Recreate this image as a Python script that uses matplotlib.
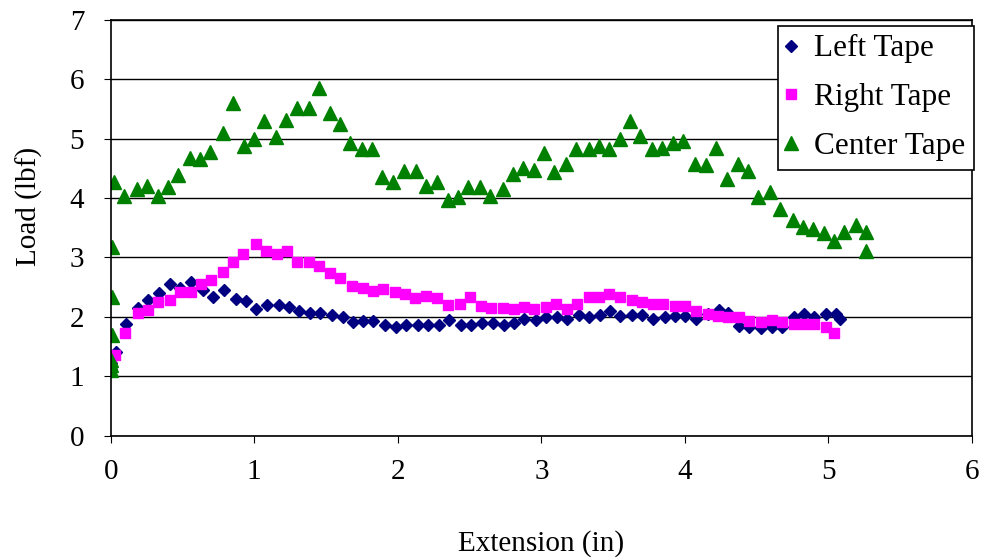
import matplotlib
matplotlib.use("Agg")
import matplotlib.pyplot as plt

plt.rcParams["font.family"] = ["Liberation Serif", "DejaVu Serif"]
plt.rcParams["font.size"] = 21

# extension (in) and load (lbf) for each tape
left_x = [0, 0.005, 0.037, 0.11, 0.19, 0.26, 0.34, 0.41, 0.48, 0.56, 0.64, 0.71,
          0.79, 0.87, 0.94, 1.01, 1.09, 1.17, 1.24, 1.31, 1.39, 1.46, 1.54, 1.62,
          1.69, 1.76, 1.83, 1.91, 1.99, 2.06, 2.14, 2.21, 2.29, 2.36, 2.44, 2.51,
          2.59, 2.66, 2.74, 2.81, 2.88, 2.96, 3.03, 3.11, 3.18, 3.26, 3.33, 3.41,
          3.48, 3.55, 3.63, 3.70, 3.78, 3.86, 3.93, 4.00, 4.08, 4.16, 4.24, 4.30,
          4.38, 4.45, 4.53, 4.61, 4.68, 4.76, 4.83, 4.90, 4.98, 5.05, 5.08]
left_load = [1.12, 1.22, 1.40, 1.88, 2.15, 2.28, 2.40, 2.55, 2.48, 2.59, 2.45, 2.33,
             2.45, 2.30, 2.27, 2.13, 2.20, 2.20, 2.17, 2.10, 2.07, 2.07, 2.03, 1.99,
             1.92, 1.93, 1.93, 1.86, 1.82, 1.86, 1.86, 1.86, 1.86, 1.95, 1.86, 1.86,
             1.90, 1.90, 1.86, 1.89, 1.96, 1.95, 1.99, 2.00, 1.97, 2.03, 1.99, 2.03,
             2.09, 2.01, 2.03, 2.03, 1.96, 2.00, 2.01, 2.01, 1.96, 2.05, 2.12, 2.06,
             1.85, 1.82, 1.81, 1.83, 1.83, 2.00, 2.05, 1.99, 2.04, 2.05, 1.97]

right_x = [0, 0.03, 0.10, 0.19, 0.26, 0.33, 0.41, 0.48, 0.56, 0.63, 0.70, 0.78,
           0.85, 0.92, 1.01, 1.08, 1.16, 1.23, 1.30, 1.38, 1.45, 1.53, 1.60, 1.68,
           1.76, 1.83, 1.90, 1.98, 2.05, 2.12, 2.20, 2.27, 2.35, 2.43, 2.50, 2.58,
           2.65, 2.73, 2.81, 2.88, 2.95, 3.03, 3.10, 3.18, 3.25, 3.33, 3.40, 3.47,
           3.55, 3.63, 3.70, 3.78, 3.85, 3.93, 4.00, 4.08, 4.16, 4.23, 4.30, 4.38,
           4.45, 4.53, 4.61, 4.68, 4.76, 4.83, 4.90, 4.98, 5.04]
right_load = [1.27, 1.35, 1.72, 2.06, 2.11, 2.25, 2.28, 2.42, 2.42, 2.56, 2.62, 2.76,
              2.93, 3.05, 3.23, 3.10, 3.06, 3.10, 2.93, 2.93, 2.86, 2.73, 2.66, 2.52,
              2.49, 2.43, 2.46, 2.42, 2.38, 2.32, 2.35, 2.32, 2.19, 2.21, 2.33, 2.18,
              2.15, 2.15, 2.13, 2.16, 2.13, 2.16, 2.21, 2.13, 2.21, 2.33, 2.33, 2.38,
              2.33, 2.29, 2.25, 2.21, 2.21, 2.18, 2.18, 2.09, 2.05, 2.01, 1.99, 2.00,
              1.93, 1.92, 1.95, 1.92, 1.88, 1.88, 1.88, 1.82, 1.72]

center_x = [0, 0.002, 0.004, 0.006, 0.008, 0.010, 0.023, 0.095, 0.18, 0.25, 0.33,
            0.40, 0.47, 0.55, 0.62, 0.69, 0.78, 0.85, 0.93, 1.00, 1.07, 1.15, 1.22,
            1.30, 1.38, 1.45, 1.53, 1.60, 1.67, 1.75, 1.82, 1.89, 1.97, 2.04, 2.13,
            2.20, 2.27, 2.35, 2.42, 2.49, 2.57, 2.64, 2.73, 2.80, 2.87, 2.95, 3.02,
            3.09, 3.17, 3.24, 3.33, 3.40, 3.47, 3.55, 3.62, 3.69, 3.77, 3.84, 3.92,
            3.99, 4.07, 4.15, 4.22, 4.29, 4.37, 4.44, 4.51, 4.59, 4.66, 4.75, 4.82,
            4.89, 4.97, 5.04, 5.11, 5.19, 5.26, 5.265]
center_load = [1.10, 1.18, 1.27, 1.69, 2.34, 3.17, 4.27, 4.03, 4.15, 4.21, 4.04,
               4.18, 4.38, 4.67, 4.65, 4.78, 5.09, 5.60, 4.88, 4.99, 5.29, 5.02, 5.31,
               5.52, 5.52, 5.86, 5.43, 5.25, 4.92, 4.82, 4.82, 4.35, 4.27, 4.45, 4.45,
               4.21, 4.27, 3.97, 4.01, 4.18, 4.18, 4.04, 4.15, 4.40, 4.51, 4.48, 4.75,
               4.44, 4.57, 4.82, 4.82, 4.88, 4.82, 4.99, 5.29, 5.05, 4.82, 4.85, 4.92,
               4.96, 4.57, 4.55, 4.85, 4.32, 4.58, 4.45, 4.01, 4.10, 3.81, 3.63, 3.51,
               3.47, 3.41, 3.27, 3.43, 3.55, 3.43, 3.10]

fig = plt.figure(figsize=(9.82, 5.59), dpi=100)
ax = fig.add_axes([0.1127, 0.2209, 0.8771, 0.7435])

ax.plot(left_x, left_load, linestyle="none", marker="D", markersize=6.2,
        color="#000080", label="Left Tape")
ax.plot(right_x, right_load, linestyle="none", marker="s", markersize=7.8,
        color="#FF00FF", label="Right Tape")
ax.plot(center_x, center_load, linestyle="none", marker="^", markersize=9.5,
        color="#008000", label="Center Tape")

ax.set_xlim(0, 6)
ax.set_ylim(0, 7)
ax.set_xticks(range(0, 7))
ax.set_yticks(range(0, 8))
ax.yaxis.grid(True, color="black", linewidth=1.0)
ax.set_axisbelow(True)
for side in ax.spines.values():
    side.set_color("black")
    side.set_linewidth(1.2)
ax.tick_params(axis="x", direction="out", length=5, pad=12, colors="black")
ax.tick_params(axis="y", direction="out", length=5, pad=14, colors="black")

ax.set_xlabel("Extension (in)")
ax.set_ylabel("Load (lbf)")
ax.xaxis.set_label_coords(0.5, -0.228)
ax.yaxis.set_label_coords(-0.079, 0.55)

leg = ax.legend(loc="upper right", bbox_to_anchor=(974 / 982, 1 - 25.7 / 559),
                bbox_transform=fig.transFigure, borderaxespad=0, fancybox=False,
                framealpha=1, edgecolor="black", borderpad=0.28,
                labelspacing=0.63, handlelength=0.3, handletextpad=0.58,
                fontsize=22.5)
leg.get_frame().set_linewidth(1.2)

fig.savefig("out.png", dpi=100)
